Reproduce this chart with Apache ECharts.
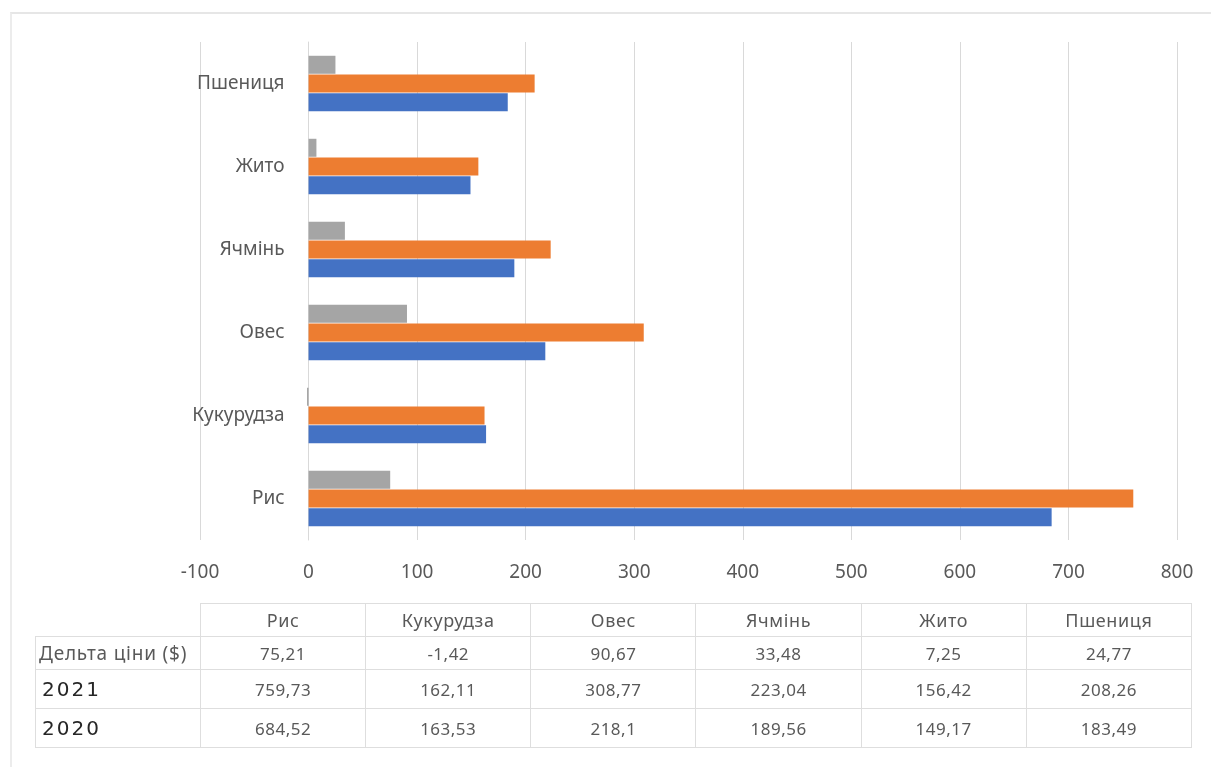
<!DOCTYPE html>
<html>
<head>
<meta charset="utf-8">
<script src="https://cdn.jsdelivr.net/npm/echarts@6/dist/echarts.min.js"></script>
<style>
html,body{margin:0;padding:0;background:#fff;}
#wrap{position:relative;width:1211px;height:767px;overflow:hidden;background:#fff;}
#chart{position:absolute;left:0;top:0;width:1211px;height:767px;}
#frame{position:absolute;left:10px;top:12px;width:1220px;height:800px;border-top:2px solid #e6e6e6;border-left:2px solid #ececec;}
#tbl{position:absolute;left:35px;top:603px;width:1157px;table-layout:fixed;border-collapse:collapse;font-family:"Noto Sans",sans-serif;color:#595959;}
#tbl td{height:32px;padding:0;text-align:center;font-size:17px;letter-spacing:0.5px;border:1.5px solid #dedede;white-space:nowrap;overflow:hidden;}
#tbl tr.hdr td{font-size:18px;letter-spacing:0.6px;}
#tbl td.lbl{text-align:left;padding-left:3px;font-size:19px;letter-spacing:0.8px;}
#tbl tr.big td.lbl{font-family:"DejaVu Sans",sans-serif;font-size:20px;color:#262626;letter-spacing:2px;padding-left:6px;}
#tbl tr.big td{height:38px;}
</style>
</head>
<body>
<div id="wrap">
<div id="frame"></div>
<div id="chart"></div>
<table id="tbl"></table>
</div>
<script>
// Categories (bottom to top on the chart, left to right in the table)
var categories = ['Рис', 'Кукурудза', 'Овес', 'Ячмінь', 'Жито', 'Пшениця'];
// Series values
var deltaName = 'Дельта ціни ($)';
var deltaValues = [75.21, -1.42, 90.67, 33.48, 7.25, 24.77];
var name2021 = '2021';
var values2021 = [759.73, 162.11, 308.77, 223.04, 156.42, 208.26];
var name2020 = '2020';
var values2020 = [684.52, 163.53, 218.1, 189.56, 149.17, 183.49];
// Value axis
var axisMin = -100, axisMax = 800, axisStep = 100;

var colors = ['#A5A5A5', '#ED7D31', '#4472C4'];
var fontFam = '"Noto Sans", sans-serif';
var gridLeft = 200;

var chart = echarts.init(document.getElementById('chart'), null, {renderer: 'canvas'});
var option = {
  animation: false,
  color: colors,
  grid: {left: gridLeft, right: 34, top: 42, bottom: 227, containLabel: false},
  xAxis: {
    type: 'value', min: axisMin, max: axisMax, interval: axisStep,
    axisLine: {show: false}, axisTick: {show: false},
    splitLine: {show: true, lineStyle: {color: '#d9d9d9', width: 1}},
    axisLabel: {color: '#595959', fontSize: 19, fontFamily: fontFam, margin: 23}
  },
  yAxis: {
    type: 'category', data: categories, offset: 0,
    axisLine: {show: true, onZero: false, lineStyle: {color: '#d9d9d9', width: 1}},
    axisTick: {show: false},
    axisLabel: {color: '#595959', fontSize: 19, fontFamily: fontFam, margin: 24}
  },
  series: [
    {name: deltaName, type: 'bar', data: deltaValues, barWidth: 18, barGap: '4%'},
    {name: name2021, type: 'bar', data: values2021, barWidth: 18, barGap: '4%'},
    {name: name2020, type: 'bar', data: values2020, barWidth: 18, barGap: '4%'}
  ]
};
chart.setOption(option);
// Place the category axis (line + labels) at value 0 of the value axis
var zeroX = chart.convertToPixel({xAxisIndex: 0}, 0);
chart.setOption({yAxis: {offset: -(zeroX - gridLeft)}});

function fmt(v){ return String(v).replace('.', ','); }
var tbl = document.getElementById('tbl');
var html = '<colgroup><col style="width:165px">';
categories.forEach(function(){ html += '<col>'; });
html += '</colgroup><tr class="hdr"><td style="border:none;border-bottom:1.5px solid #dedede"></td>';
categories.forEach(function(c){ html += '<td>' + c + '</td>'; });
html += '</tr>';
[[deltaName, deltaValues, ''], [name2021, values2021, 'big'], [name2020, values2020, 'big']].forEach(function(r){
  html += '<tr class="' + r[2] + '"><td class="lbl">' + r[0] + '</td>';
  r[1].forEach(function(v){ html += '<td>' + fmt(v) + '</td>'; });
  html += '</tr>';
});
tbl.innerHTML = html;
</script>
</body>
</html>
